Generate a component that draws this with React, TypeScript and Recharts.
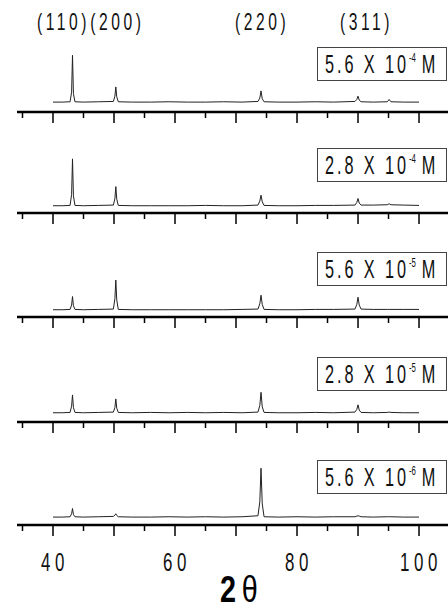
import React from 'react';
import { LineChart, Line, XAxis, YAxis } from 'recharts';

// 2-theta positions where the traces were read (degrees)
const theta = [
  40, 41.5, 42.8, 43.05, 43.2, 43.35, 43.6, 45, 47.5, 49.9,
  50.15, 50.3, 50.45, 50.7, 53, 56, 59, 62, 65, 68,
  71, 73.6, 73.9, 74.1, 74.3, 74.6, 77, 80, 83, 86,
  89.5, 89.8, 90.0, 90.2, 90.5, 92.5, 94.8, 95.1, 95.4, 97.5, 100,
];

// intensities (arb. units, 0-100 of each panel's height)
const i56e4 = [15, 15, 15.5, 30, 86, 28, 15.5, 15, 15.5, 16, 24, 38, 23, 15.5, 15, 15, 15.5, 15, 15, 15.5, 15, 16, 21, 32, 20, 15.5, 15, 15, 15.5, 15, 16, 19, 24, 18, 15.5, 15, 15.5, 19, 15.5, 15, 15];
const i28e4 = [11, 11, 11.5, 28, 82, 26, 11.5, 11, 11.5, 12, 22, 40, 21, 11.5, 11, 11, 11, 11, 11.5, 11, 11, 12, 18, 27, 17, 11.5, 11, 11, 11.5, 11.5, 12, 16, 22, 15, 12, 12, 12.5, 14, 12.5, 12, 11.5];
const i56e5 = [11, 11, 11.5, 18, 31, 17, 11.5, 11, 11.5, 12, 28, 56, 26, 11.5, 11, 11, 11, 11, 11, 11, 11.5, 12, 20, 33, 19, 11.5, 11, 11, 11.5, 11.5, 12, 19, 30, 18, 12, 11.5, 11.5, 11.5, 11.5, 11.5, 11.5];
const i28e5 = [14, 14, 14.5, 24, 41, 22, 14.5, 14, 14.5, 15, 22, 35, 21, 14.5, 14, 14.5, 14, 14.5, 14, 14.5, 14, 15, 25, 45, 23, 14.5, 14, 14, 14.5, 14, 15, 19, 26, 18, 14.5, 14, 14.5, 15, 14.5, 14, 14];
const i56e6 = [12, 12, 12.5, 17, 25, 16, 12.5, 12, 12.5, 13, 15, 17, 14.5, 12.5, 12, 12, 12.5, 12, 12.5, 12, 12.5, 14, 35, 86, 32, 12.5, 12, 12.5, 12, 12.5, 12.5, 13.5, 14, 13.5, 12.5, 12, 12.5, 12.5, 12.5, 12, 12];

const panels = [i56e4, i28e4, i56e5, i28e5, i56e6];
const concMantissa = ['5.6', '2.8', '5.6', '2.8', '5.6'];
const concExponent = ['-4', '-4', '-5', '-5', '-6'];

const xTicks = [35, 40, 45, 50, 55, 60, 65, 70, 75, 80, 85, 90, 95, 100];
const xLabels = [40, 60, 80, 100];
const yTicks = [0, 10, 20, 30, 40, 50, 60, 70, 80, 90, 100];

const peakLabels = ['(110)(200)', '(220)', '(311)'];
const peakLabelLeft = [37, 235, 340];

const FONT = "'Liberation Sans', Arial, sans-serif";
const NARROW = 0.65; // horizontal squeeze to mimic the condensed face

// pixel y of each panel's x-axis line
const axisY = [112, 213, 317, 422, 525];
const PLOT_H = 66;
const TOP = 10;

const Narrow = ({ children, scale = NARROW }: { children: React.ReactNode; scale?: number }) => (
  <span style={{ display: 'inline-block', transform: `scaleX(${scale})`, transformOrigin: 'left center', whiteSpace: 'nowrap' }}>
    {children}
  </span>
);

const XTick = (showLabel: boolean) => (props: any) => {
  const { x, y, payload } = props;
  const major = payload.value % 10 === 0;
  return (
    <g>
      <line x1={x} y1={y} x2={x} y2={y + (major ? 11 : 6)} stroke="#000" strokeWidth={1.5} />
      {showLabel && xLabels.includes(payload.value) && (
        <text
          transform={`translate(${x + 2},${y + 46}) scale(${NARROW},1)`}
          textAnchor="middle"
          fontFamily={FONT}
          fontSize={26}
          letterSpacing={7}
          fill="#111"
        >
          {payload.value}
        </text>
      )}
    </g>
  );
};

const YTick = (props: any) => {
  const { x, y } = props;
  return (
    <g>
      <line x1={x} y1={y} x2={x + 5} y2={y} stroke="#000" strokeWidth={1.5} />
      <line x1={x} y1={y - 3.3} x2={x + 3} y2={y - 3.3} stroke="#000" strokeWidth={1} />
    </g>
  );
};

const Panel = ({ values, index }: { values: number[]; index: number }) => {
  const last = index === panels.length - 1;
  const xAxisH = last ? 70 : 30;
  const height = TOP + PLOT_H + xAxisH;
  const data = theta.map((t, i) => ({ t, v: values[i] }));
  return (
    <div style={{ position: 'absolute', left: 0, top: axisY[index] - TOP - PLOT_H }}>
      <LineChart width={448} height={height} data={data} margin={{ top: TOP, right: 0, left: 17, bottom: 0 }}>
        <XAxis
          dataKey="t"
          type="number"
          domain={[34.1, 104.75]}
          allowDataOverflow
          ticks={xTicks}
          interval={0}
          height={xAxisH}
          tickSize={0}
          tickMargin={0}
          tickLine={false}
          axisLine={{ stroke: '#000', strokeWidth: 2.5 }}
          tick={XTick(last)}
        />
        <YAxis
          type="number"
          domain={[0, 100]}
          ticks={yTicks}
          interval={0}
          width={0}
          tickSize={0}
          tickMargin={0}
          tickLine={false}
          axisLine={{ stroke: '#000', strokeWidth: 2 }}
          tick={YTick}
        />
        <Line
          type="linear"
          dataKey="v"
          stroke="#222"
          strokeWidth={1}
          dot={false}
          isAnimationActive={false}
        />
      </LineChart>
      <div
        style={{
          position: 'absolute',
          left: 317,
          top: TOP + PLOT_H - 66 + 1,
          width: 130,
          height: 34,
          border: '1px solid #444',
          boxSizing: 'border-box',
          fontFamily: FONT,
          fontSize: 25,
          color: '#111',
          lineHeight: '32px',
          paddingLeft: 7,
          whiteSpace: 'nowrap',
          background: '#fff',
          overflow: 'hidden',
        }}
      >
        <Narrow>
          <span style={{ letterSpacing: 4.5 }}>{concMantissa[index]} X 10</span>
          <span style={{ fontSize: 12, position: 'relative', top: -11, marginRight: 9 }}>
            {concExponent[index]}
          </span>
          M
        </Narrow>
      </div>
    </div>
  );
};

export default function App() {
  return (
    <div
      style={{
        position: 'fixed',
        left: 0,
        top: 0,
        width: 448,
        height: 615,
        background: '#fff',
        overflow: 'hidden',
      }}
    >
      {peakLabels.map((lbl, i) => (
        <div
          key={lbl}
          style={{
            position: 'absolute',
            left: peakLabelLeft[i],
            top: 8,
            fontFamily: FONT,
            fontSize: 24,
            color: '#111',
            lineHeight: '28px',
          }}
        >
          <Narrow>
            <span style={{ letterSpacing: 5.5 }}>{lbl}</span>
          </Narrow>
        </div>
      ))}
      {panels.map((vals, i) => (
        <Panel key={i} values={vals} index={i} />
      ))}
      <div
        style={{
          position: 'absolute',
          left: 220,
          top: 571,
          fontFamily: FONT,
          fontSize: 36,
          lineHeight: '38px',
          color: '#000',
        }}
      >
        <Narrow scale={0.8}>
          <span style={{ fontWeight: 'bold' }}>2</span>
          <span style={{ marginLeft: 7 }}>θ</span>
        </Narrow>
      </div>
    </div>
  );
}
